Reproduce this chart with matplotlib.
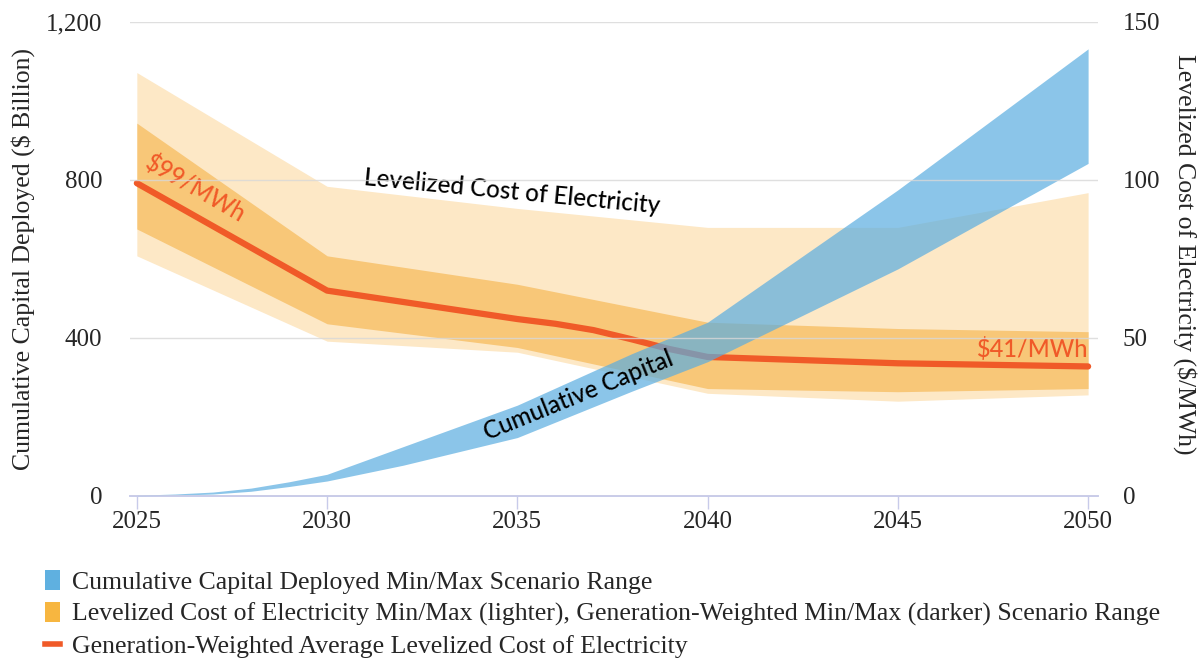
import numpy as np
import matplotlib
matplotlib.use('Agg')
import matplotlib.pyplot as plt
from matplotlib.patches import Patch
from matplotlib.lines import Line2D

# dados
lcoe_years = [2025, 2030, 2035, 2040, 2045, 2050]
lcoe_light_max = [134, 98, 91, 85, 85, 96]
lcoe_light_min = [76, 49, 45.5, 32.5, 30, 32]
lcoe_dark_max = [118, 76, 67, 55, 53, 52]
lcoe_dark_min = [84.5, 54.5, 47, 34, 33, 34]

avg_years = [2025, 2030, 2035, 2036, 2037, 2038, 2039, 2040, 2045, 2050]
avg_lcoe = [99, 65, 56, 54.5, 52.5, 49.6, 46.5, 44, 42, 41]

cap_years = [2025, 2026, 2027, 2028, 2029, 2030, 2032, 2035, 2038, 2040, 2045, 2050]
cap_max = [2, 5, 10, 20, 36, 55, 125, 230, 360, 440, 775, 1132]
cap_min = [0, 2, 5, 12, 24, 38, 78, 148, 265, 340, 575, 842]

xticks = [2025, 2030, 2035, 2040, 2045, 2050]

#cores
c_light = '#fde8c6'
c_dark = '#f8c778'
c_blue = '#5aade0'
c_red = '#f05a28'
c_axis = '#c8cbea'
c_txt = '#262626'

serif = 'Liberation Serif'
sans = 'Lato'

fig = plt.figure(figsize=(11.98, 6.59), dpi=100)
ax = fig.add_axes([130/1198, 163/659, 968/1198, 474/659])
ax2 = ax.twinx()
ax.set_zorder(ax2.get_zorder() + 1)
ax.patch.set_visible(False)

# LCOE no eixo direito
ax2.fill_between(lcoe_years, lcoe_light_min, lcoe_light_max, color=c_light, lw=0)
ax2.fill_between(lcoe_years, lcoe_dark_min, lcoe_dark_max, color=c_dark, lw=0)
ax2.plot(avg_years, avg_lcoe, color=c_red, lw=4.5, solid_capstyle='round')

# capital acumulado no eixo esquerdo
ax.fill_between(cap_years, cap_min, cap_max, color=c_blue, alpha=0.7, lw=0)

ax.set_xlim(2024.82, 2050.26)
ax.set_ylim(0, 1200)
ax2.set_ylim(0, 150)

ax.set_xticks(xticks)
ax.set_xticklabels([str(v) for v in xticks], fontsize=18, family=serif, color=c_txt)
ax.set_yticks([0, 400, 800, 1200])
ax.set_yticklabels(['0', '400', '800', '1,200'], fontsize=18, family=serif, color=c_txt)
ax2.set_yticks([0, 50, 100, 150])
ax2.set_yticklabels(['0', '50', '100', '150'], fontsize=18, family=serif, color=c_txt)

ax.tick_params(axis='x', length=9, width=1, color=c_axis, pad=2)
ax.tick_params(axis='y', length=0, pad=20)
ax2.tick_params(axis='y', length=0, pad=18)

ax.grid(axis='y', color='#d8d8d8', lw=1, alpha=0.8)
ax.set_axisbelow(False)

for a in (ax, ax2):
    for s in ('top', 'left', 'right'):
        a.spines[s].set_visible(False)
    a.spines['bottom'].set_color(c_axis)
    a.spines['bottom'].set_linewidth(1.2)

ax.set_ylabel('Cumulative Capital Deployed ($ Billion)', fontsize=18.5, family=serif, color=c_txt)
ax.yaxis.set_label_coords(-0.098, 0.5)
ax2.set_ylabel('Levelized Cost of Electricity ($/MWh)', fontsize=18.5, family=serif, color=c_txt,
               rotation=-90, va='center')
ax2.yaxis.set_label_coords(1.09, 0.51)

# anotacoes
ax2.text(2026.55, 97.5, '$99/MWh', color=c_red, fontsize=17, family=sans, weight='medium',
         rotation=-30, ha='center', va='center')
ax2.text(2050, 44, '$41/MWh', color=c_red, fontsize=17, family=sans, weight='medium',
         ha='right', va='baseline')
ax2.text(2034.87, 96.2, 'Levelized Cost of Electricity', color='black', fontsize=17.5, family=sans,
         weight='medium', rotation=-5.5, ha='center', va='center')
ax.text(2036.6, 255, 'Cumulative Capital', color='black', fontsize=17.5, family=sans,
        weight='medium', rotation=22, ha='center', va='center')

# legenda
handles = [Patch(color='#5fb0e0', lw=0),
           Patch(color='#f7b640', lw=0),
           Line2D([], [], color=c_red, lw=4)]
labels = ['Cumulative Capital Deployed Min/Max Scenario Range',
          'Levelized Cost of Electricity Min/Max (lighter), Generation-Weighted Min/Max (darker) Scenario Range',
          'Generation-Weighted Average Levelized Cost of Electricity']
fig.legend(handles, labels, loc='upper left', bbox_to_anchor=(45/1198, 1 - 570/659),
           frameon=False, prop={'family': serif, 'size': 18.5}, labelcolor=c_txt,
           handlelength=0.6, handleheight=0.85, handletextpad=0.45, labelspacing=0.3,
           borderaxespad=0, borderpad=0)

fig.savefig('out.png', dpi=100)
